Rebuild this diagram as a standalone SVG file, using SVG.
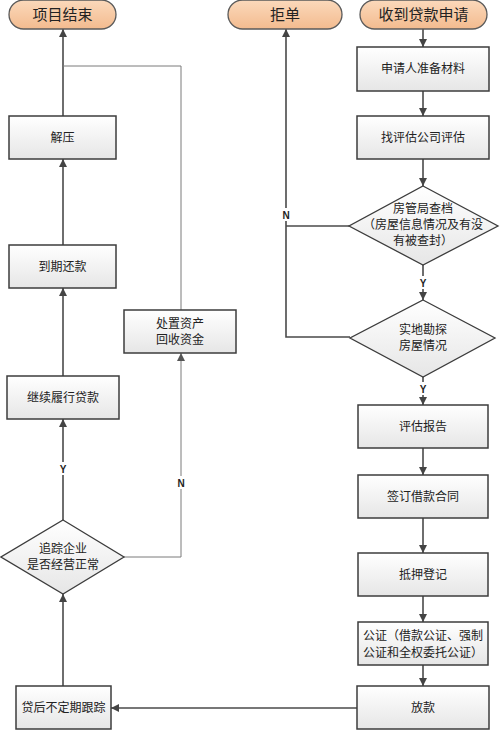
<svg xmlns="http://www.w3.org/2000/svg" width="500" height="732" viewBox="0 0 500 732">
<defs>
<linearGradient id="gBox" x1="0" y1="0" x2="0" y2="1"><stop offset="0" stop-color="#ffffff"/><stop offset="1" stop-color="#e6e6e6"/></linearGradient>
<linearGradient id="gTerm" x1="0" y1="0" x2="0" y2="1"><stop offset="0" stop-color="#fbd9bb"/><stop offset="1" stop-color="#f3bb8f"/></linearGradient>
<marker id="arr" viewBox="0 0 10 10" refX="10" refY="5" markerWidth="8" markerHeight="8" markerUnits="userSpaceOnUse" orient="auto"><path d="M0,0 L10,5 L0,10 z" fill="#444"/></marker>
<marker id="arr2" viewBox="0 0 10 10" refX="10" refY="5" markerWidth="8" markerHeight="8" markerUnits="userSpaceOnUse" orient="auto"><path d="M0,0 L10,5 L0,10 z" fill="#555"/></marker>
</defs>
<style>
.term{fill:url(#gTerm);stroke:#5a5a5a;stroke-width:1.3}
.box{fill:url(#gBox);stroke:#3c3c3c;stroke-width:1.5}
.dia{fill:url(#gBox);stroke:#3c3c3c;stroke-width:1.3}
.t{font-family:"Noto Sans CJK SC","Noto Sans",sans-serif;font-size:12px;fill:#222;text-anchor:middle}
.tt{font-family:"Noto Sans CJK SC","Noto Sans",sans-serif;font-size:15px;fill:#222;text-anchor:middle}
.lb{font-family:"Liberation Sans",Arial,sans-serif;font-size:10px;font-weight:bold;fill:#222;text-anchor:middle}
.c{fill:none;stroke:#4a4a4a;stroke-width:1.6}
.c2{fill:none;stroke:#7a7a7a;stroke-width:1}
</style>
<g id="connectors">
<path class="c" d="M423,29 V47" marker-end="url(#arr)"/>
<path class="c" d="M423,91 V116" marker-end="url(#arr)"/>
<path class="c" d="M423,159 V186" marker-end="url(#arr)"/>
<path class="c" d="M423,265 V300" marker-end="url(#arr)"/>
<path class="c" d="M423,377 V405" marker-end="url(#arr)"/>
<path class="c" d="M423,448 V475" marker-end="url(#arr)"/>
<path class="c" d="M423,518 V553" marker-end="url(#arr)"/>
<path class="c" d="M423,596 V622" marker-end="url(#arr)"/>
<path class="c" d="M423,665 V686" marker-end="url(#arr)"/>
<path class="c" d="M349,226 H286"/>
<path class="c" d="M350,337 H286 V29" marker-end="url(#arr)"/>
<path class="c" d="M357,708 H111" marker-end="url(#arr)"/>
<path class="c" d="M63,686 V594" marker-end="url(#arr)"/>
<path class="c" d="M63,520 V419" marker-end="url(#arr)"/>
<path class="c" d="M63,376 V288" marker-end="url(#arr)"/>
<path class="c" d="M63,245 V159" marker-end="url(#arr)"/>
<path class="c" d="M63,116 V29" marker-end="url(#arr)"/>
<path class="c2" d="M124,557 H181 V353" marker-end="url(#arr2)"/>
<path class="c2" d="M181,310 V66 H63"/>
<rect x="279" y="208" width="14" height="13" fill="#fff"/>
<text class="lb" x="286" y="219">N</text>
<rect x="417" y="276" width="12" height="13" fill="#fff"/>
<text class="lb" x="423" y="287">Y</text>
<rect x="417" y="382" width="12" height="13" fill="#fff"/>
<text class="lb" x="423" y="393">Y</text>
<rect x="57" y="462" width="12" height="13" fill="#fff"/>
<text class="lb" x="63" y="473">Y</text>
<rect x="174" y="476" width="14" height="13" fill="#fff"/>
<text class="lb" x="181" y="487">N</text>
</g>
<g id="n_end"><rect class="term" x="9" y="0" width="107" height="29" rx="14.5"/><text class="tt" x="62.5" y="20">项目结束</text></g>
<g id="n_reject"><rect class="term" x="228" y="0" width="114" height="29" rx="14.5"/><text class="tt" x="285" y="20">拒单</text></g>
<g id="n_start"><rect class="term" x="360" y="0" width="127" height="29" rx="14.5"/><text class="tt" x="423.5" y="20">收到贷款申请</text></g>
<g id="n_prepare"><rect class="box" x="357" y="47" width="132" height="44"/><text class="t" x="423" y="73">申请人准备材料</text></g>
<g id="n_eval"><rect class="box" x="357" y="116" width="132" height="43"/><text class="t" x="423" y="142">找评估公司评估</text></g>
<g id="n_check"><polygon class="dia" points="423,186 498,226 423,265 349,226"/><text class="t" x="423" y="213">房管局查档</text><text class="t" x="423" y="229">（房屋信息情况及有没</text><text class="t" x="423" y="245">有被查封）</text></g>
<g id="n_survey"><polygon class="dia" points="423,300 495,338 423,377 350,338"/><text class="t" x="423" y="334">实地勘探</text><text class="t" x="423" y="350">房屋情况</text></g>
<g id="n_report"><rect class="box" x="358" y="405" width="130" height="43"/><text class="t" x="423" y="431">评估报告</text></g>
<g id="n_contract"><rect class="box" x="358" y="475" width="130" height="43"/><text class="t" x="423" y="501">签订借款合同</text></g>
<g id="n_mortgage"><rect class="box" x="358" y="553" width="130" height="43"/><text class="t" x="423" y="579">抵押登记</text></g>
<g id="n_notary"><rect class="box" x="358" y="622" width="130" height="43"/><text class="t" x="423" y="640">公证（借款公证、强制</text><text class="t" x="423" y="657">公证和全权委托公证）</text></g>
<g id="n_loan"><rect class="box" x="357" y="686" width="132" height="43"/><text class="t" x="423" y="712">放款</text></g>
<g id="n_track"><rect class="box" x="16" y="686" width="95" height="43"/><text class="t" x="63.5" y="712">贷后不定期跟踪</text></g>
<g id="n_normal"><polygon class="dia" points="63,520 124,557 63,594 1,557"/><text class="t" x="63" y="553">追踪企业</text><text class="t" x="63" y="569">是否经营正常</text></g>
<g id="n_continue"><rect class="box" x="7" y="376" width="112" height="43"/><text class="t" x="63" y="402">继续履行贷款</text></g>
<g id="n_dispose"><rect class="box" x="124" y="310" width="112" height="43"/><text class="t" x="180" y="328">处置资产</text><text class="t" x="180" y="344">回收资金</text></g>
<g id="n_repay"><rect class="box" x="9" y="245" width="107" height="43"/><text class="t" x="62.5" y="271">到期还款</text></g>
<g id="n_release"><rect class="box" x="9" y="116" width="107" height="43"/><text class="t" x="62.5" y="142">解压</text></g>
</svg>
